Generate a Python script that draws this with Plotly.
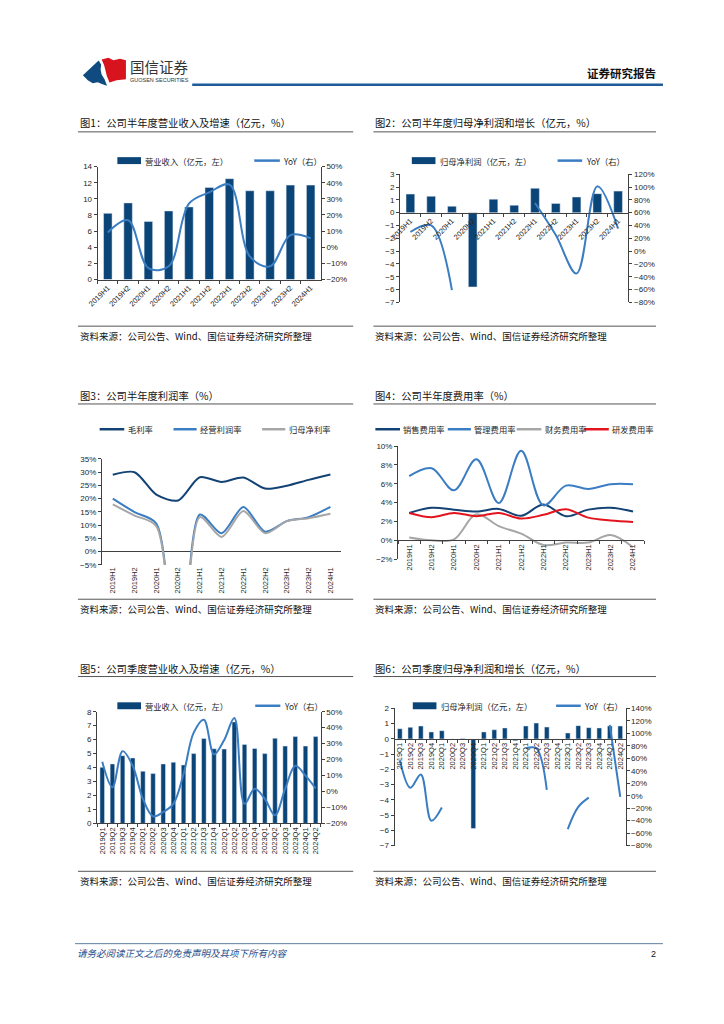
import plotly.graph_objects as go

W, H = 724, 1024


def fx(x):
    return x / W


def fy(y):
    return 1 - y / H


# ---------------- data ----------------
half_years = ["2019H1", "2019H2", "2020H1", "2020H2", "2021H1", "2021H2",
              "2022H1", "2022H2", "2023H1", "2023H2", "2024H1"]
rev_half = [8.2, 9.5, 7.2, 8.5, 9.0, 11.4, 12.5, 11.0, 11.0, 11.7, 11.7]
rev_half_yoy = [9.2, 16.7, -12.9, -11.8, 27.0, 34.0, 38.8, -5.7, -11.8, 7.5, 5.5]
np_half = [1.45, 1.28, 0.50, -5.80, 1.05, 0.58, 1.90, 0.72, 1.22, 1.48, 1.68]
np_half_yoy = [29.8, 40.0, -61.0, None, None, None, 75.0, 25.0, -35.0, 101.0, 35.0]

gross_margin = [29.0, 30.0, 21.5, 19.3, 28.1, 26.3, 28.0, 23.8, 24.9, 27.1, 29.1]
op_margin = [20.0, 14.9, 10.6, -62.0, 14.0, 6.9, 16.8, 7.5, 11.5, 13.0, 16.9]
net_margin = [17.8, 13.6, 9.6, -68.0, 13.0, 5.5, 15.3, 6.9, 11.5, 12.6, 14.3]

sell_rate = [2.9, 3.45, 3.25, 3.05, 3.33, 2.6, 3.8, 2.55, 3.25, 3.45, 3.05]
admin_rate = [6.8, 7.65, 5.3, 8.6, 3.95, 9.5, 3.7, 5.8, 5.45, 5.95, 5.95]
fin_rate = [0.3, 0.0, 0.1, 2.75, 1.5, 0.7, -0.5, -0.25, -0.25, 0.55, -0.75]
rd_rate = [2.9, 2.45, 2.9, 2.55, 2.9, 2.3, 2.7, 3.3, 2.4, 2.1, 1.95]

quarters = ["2019Q1", "2019Q2", "2019Q3", "2019Q4", "2020Q1", "2020Q2", "2020Q3", "2020Q4",
            "2021Q1", "2021Q2", "2021Q3", "2021Q4", "2022Q1", "2022Q2", "2022Q3", "2022Q4",
            "2023Q1", "2023Q2", "2023Q3", "2023Q4", "2024Q1", "2024Q2"]
rev_q = [4.02, 4.26, 4.85, 4.69, 3.74, 3.57, 4.26, 4.38, 4.19, 5.00, 6.08, 5.35,
         5.33, 7.27, 5.66, 5.37, 5.00, 6.10, 5.54, 6.22, 5.54, 6.22]
rev_q_yoy = [18.6, 2.7, 25.3, 16.1, -4.6, -15.5, -12.8, -7.7, 11.0, 36.9, 45.0, 23.4,
             32.3, 46.0, -7.7, 1.7, -4.6, -14.9, 1.7, 16.1, 10.0, 2.0]
np_q = [0.67, 0.76, 0.85, 0.46, 0.54, -0.02, 0.03, -5.88, 0.46, 0.60, 0.72, -0.12,
        0.85, 1.04, 0.78, -0.05, 0.39, 0.87, 0.74, 0.72, 0.85, 0.85]
np_q_yoy = [57.0, 12.7, 34.0, -40.3, -19.0, None, None, None, None, None, None, None,
            76.0, 76.0, 9.5, None, -53.5, -18.0, -3.2, None, 113.6, -2.0]

titles = ["图1：公司半年度营业收入及增速（亿元，%）",
          "图2：公司半年度归母净利润和增长（亿元，%）",
          "图3：公司半年度利润率（%）",
          "图4：公司半年度费用率（%）",
          "图5：公司季度营业收入及增速（亿元，%）",
          "图6：公司季度归母净利润和增长（亿元，%）"]
source_text = "资料来源：公司公告、Wind、国信证券经济研究所整理"

# ---------------- style ----------------
NAVY = "#0B4477"
BLUE = "#3B7DC3"
DNAVY = "#134274"
GRAY = "#A6A6A6"
RED = "#E3141D"
AX = "#404040"
TXT = "#262626"
CJK = "Noto Sans CJK SC"
NUM = "Liberation Sans, Arial, Noto Sans CJK SC"


def xdom(l, r):
    return [fx(l), fx(r)]


def ydom(top, bot):
    return [fy(bot), fy(top)]


fig = go.Figure()

# Panel 1
fig.add_trace(go.Bar(x=half_years, y=rev_half, xaxis="x", yaxis="y",
                     marker_color=NAVY, width=0.42, name="营业收入（亿元，左）"))
fig.add_trace(go.Scatter(x=half_years, y=rev_half_yoy, xaxis="x", yaxis="y2", mode="lines",
                         line=dict(color=BLUE, width=2, shape="spline"), name="YoY（右）"))
# Panel 2
fig.add_trace(go.Bar(x=half_years, y=np_half, xaxis="x2", yaxis="y3",
                     marker_color=NAVY, width=0.42, name="归母净利润（亿元，左）"))
fig.add_trace(go.Scatter(x=half_years, y=np_half_yoy, xaxis="x2", yaxis="y4", mode="lines",
                         line=dict(color=BLUE, width=2, shape="spline"), name="YoY（右）"))
# Panel 3
for ys, c, n in [(gross_margin, DNAVY, "毛利率"), (op_margin, BLUE, "经营利润率"),
                 (net_margin, GRAY, "归母净利率")]:
    fig.add_trace(go.Scatter(x=half_years, y=ys, xaxis="x3", yaxis="y5", mode="lines",
                             line=dict(color=c, width=2, shape="spline", smoothing=0.8), name=n))
# Panel 4
for ys, c, n in [(sell_rate, DNAVY, "销售费用率"), (admin_rate, BLUE, "管理费用率"),
                 (fin_rate, GRAY, "财务费用率"), (rd_rate, RED, "研发费用率")]:
    fig.add_trace(go.Scatter(x=half_years, y=ys, xaxis="x4", yaxis="y6", mode="lines",
                             line=dict(color=c, width=2, shape="spline"), name=n))
# Panel 5
fig.add_trace(go.Bar(x=quarters, y=rev_q, xaxis="x5", yaxis="y7",
                     marker_color=NAVY, width=0.45, name="营业收入（亿元，左）"))
fig.add_trace(go.Scatter(x=quarters, y=rev_q_yoy, xaxis="x5", yaxis="y8", mode="lines",
                         line=dict(color=BLUE, width=2, shape="spline"), name="YoY（右）"))
# Panel 6
fig.add_trace(go.Bar(x=quarters, y=np_q, xaxis="x6", yaxis="y9",
                     marker_color=NAVY, width=0.45, name="归母净利润（亿元，左）"))
fig.add_trace(go.Scatter(x=quarters, y=np_q_yoy, xaxis="x6", yaxis="y10", mode="lines",
                         line=dict(color=BLUE, width=2, shape="spline"), name="YoY（右）"))

cy = dict(showgrid=False, zeroline=False, showline=True, linecolor=AX, linewidth=1,
          ticks="outside", ticklen=3, tickcolor=AX,
          tickfont=dict(family=NUM, size=8, color=TXT))
cx = dict(type="category", showgrid=False, zeroline=False, showline=True, linecolor=AX,
          linewidth=1, ticks="outside", ticklen=3, tickcolor=AX, tickson="boundaries",
          tickfont=dict(family=NUM, size=7.5, color=TXT))

layout_axes = dict(
    xaxis=dict(cx, domain=xdom(88, 314.6), anchor="y", tickangle=-45, range=[-0.5, 10.5]),
    yaxis=dict(cy, domain=ydom(164, 278), anchor="x", range=[0, 14], dtick=2, tick0=0),
    yaxis2=dict(cy, overlaying="y", side="right", anchor="x", range=[-20, 50], dtick=10,
                tick0=0, ticksuffix="%"),

    xaxis2=dict(cx, domain=xdom(395, 627), anchor="free", position=fy(210.5), tickangle=-45,
                range=[-0.5, 10.5]),
    yaxis3=dict(cy, domain=ydom(171.7, 301), anchor="x2", range=[-7, 3], dtick=1, tick0=0),
    yaxis4=dict(cy, overlaying="y3", side="right", anchor="x2", range=[-80, 120], dtick=20,
                tick0=0, ticksuffix="%"),

    xaxis3=dict(cx, domain=xdom(92.3, 335.4), anchor="y5", tickangle=-90, showline=False,
                ticks="", range=[-0.5, 10.5]),
    yaxis5=dict(cy, domain=ydom(459, 565.7), anchor="x3", range=[-5, 35], dtick=5, tick0=0,
                ticksuffix="%", zeroline=True, zerolinecolor=AX, zerolinewidth=1),

    xaxis4=dict(cx, domain=xdom(393, 643), anchor="free", position=fy(541), tickangle=-90,
                range=[-0.5, 10.5]),
    yaxis6=dict(cy, domain=ydom(446, 560), anchor="x4", range=[-2, 10], dtick=2, tick0=0,
                ticksuffix="%"),

    xaxis5=dict(cx, domain=xdom(87.5, 314.5), anchor="y7", tickangle=-90, range=[-0.5, 21.5]),
    yaxis7=dict(cy, domain=ydom(714, 826.7), anchor="x5", range=[0, 8], dtick=1, tick0=0),
    yaxis8=dict(cy, overlaying="y7", side="right", anchor="x5", range=[-20, 50], dtick=10,
                tick0=0, ticksuffix="%"),

    xaxis6=dict(cx, domain=xdom(389.5, 624), anchor="free", position=fy(741.4), tickangle=-90,
                range=[-0.5, 21.5]),
    yaxis9=dict(cy, domain=ydom(710.7, 849), anchor="x6", range=[-7, 2], dtick=1, tick0=0),
    yaxis10=dict(cy, overlaying="y9", side="right", anchor="x6", range=[-80, 140], dtick=20,
                 tick0=0, ticksuffix="%"),
)

shapes = []
annotations = []


def text(x, y, s, size=9.5, color=TXT, anchor="left", family=CJK, bold=False, italic=False):
    if bold:
        s = "<b>" + s + "</b>"
    if italic:
        s = "<i>" + s + "</i>"
    annotations.append(dict(x=fx(x), y=fy(y), xref="paper", yref="paper", text=s,
                            showarrow=False, xanchor=anchor, yanchor="middle",
                            font=dict(family=family, size=size, color=color)))


def hline(x0, x1, y, color="#595959", width=1):
    shapes.append(dict(type="line", xref="paper", yref="paper", x0=fx(x0), x1=fx(x1),
                       y0=fy(y), y1=fy(y), line=dict(color=color, width=width)))


def rect(x0, x1, y0, y1, color):
    shapes.append(dict(type="rect", xref="paper", yref="paper", x0=fx(x0), x1=fx(x1),
                       y0=fy(y1), y1=fy(y0), fillcolor=color, line=dict(width=0)))


def poly(points, color):
    d = "M " + " L ".join(f"{fx(a):.5f},{fy(b):.5f}" for a, b in points) + " Z"
    shapes.append(dict(type="path", xref="paper", yref="paper", path=d, fillcolor=color,
                       line=dict(width=0)))


# header logo
poly([(73, 72), (89, 57), (91.5, 61), (91, 66), (92, 71), (95, 76), (97.5, 82.5),
      (93, 81), (88, 79), (83, 80), (78, 77)], "#0F4A80")
poly([(92, 56), (99, 54.3), (104, 56.7), (110.7, 55.3), (116.7, 56.7), (116.7, 76),
      (107.3, 77), (100, 79.3), (97.3, 72.7), (95.7, 66), (94.5, 61.5)], "#D7141E")
text(119, 63, "国信证券", size=14.5, color="#333333")
text(119, 77, "GUOSEN SECURITIES", size=5.5, color="#333333", family=NUM)
hline(184, 662, 81.5, color="#1F5A99", width=2.5)
text(657, 70, "证券研究报告", size=11.5, color="#111111", anchor="right", bold=True)

# footer
hline(65, 662, 948, color="#5F7F9F", width=1)
text(65, 957.5, "请务必阅读正文之后的免责声明及其项下所有内容", size=9.5, color="#1F4E8C",
     italic=True)
text(657, 958, "2", size=9, color="#111111", anchor="right", family=NUM)

# titles / rules / sources
panel_left = [(68, 347.5), (368, 655)]
rows = [(120, 129, 325, 335), (395, 403.5, 600.5, 610), (670, 678.5, 875, 885)]
for r, (ty, uy, sy, sty) in enumerate(rows):
    for c, (l, rr) in enumerate(panel_left):
        text(l, ty, titles[r * 2 + c], size=10.3, color="#111111")
        hline(l, rr, uy, color="#555555", width=1)
        hline(l, rr, sy, color="#555555", width=1)
        text(l, sty, source_text, size=9.5, color="#111111")


# legends
def leg_bar(x0, y, s):
    rect(x0, x0 + 24, y - 3.5, y + 3.5, NAVY)
    text(x0 + 26.5, y, s, size=8.3)


def leg_line(x0, x1, y, color, s):
    hline(x0, x1, y, color=color, width=2.5)
    text(x1 + 1.5, y, s, size=8.3)


leg_bar(108, 158, "营业收入（亿元，左）")
leg_line(247, 273, 158, BLUE, "YoY（右）")
leg_bar(407, 158, "归母净利润（亿元，左）")
leg_line(555, 580, 158, BLUE, "YoY（右）")
leg_line(90, 115, 429, DNAVY, "毛利率")
leg_line(165, 188.5, 429, BLUE, "经营利润率")
leg_line(255, 278.5, 429, GRAY, "归母净利率")
leg_line(370, 395, 429, DNAVY, "销售费用率")
leg_line(443.5, 467, 429, BLUE, "管理费用率")
leg_line(513.5, 538.5, 429, GRAY, "财务费用率")
leg_line(582, 607, 429, RED, "研发费用率")
leg_bar(108, 708, "营业收入（亿元，左）")
leg_line(248, 273.5, 708, BLUE, "YoY（右）")
leg_bar(408, 708, "归母净利润（亿元，左）")
leg_line(553.5, 578.5, 708, BLUE, "YoY（右）")

fig.update_layout(
    width=W, height=H, autosize=False,
    margin=dict(l=0, r=0, t=0, b=0),
    paper_bgcolor="white", plot_bgcolor="white",
    showlegend=False, bargap=0, hovermode=False,
    shapes=shapes, annotations=annotations,
    font=dict(family=CJK, size=9, color=TXT),
    **layout_axes,
)

fig.write_html("out.html", config={"displayModeBar": False, "staticPlot": True},
               post_script="document.body.style.margin='0';document.body.style.overflow='hidden';")
